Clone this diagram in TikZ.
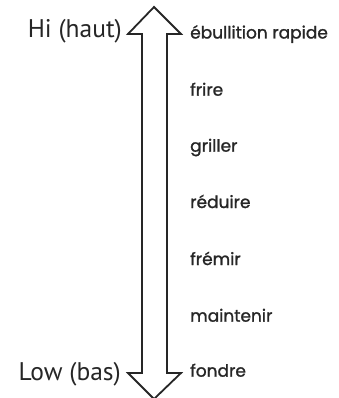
\documentclass[tikz,border=0pt]{standalone}
\usepackage{fontspec}
\newfontfamily\lftfont{PT Sans}
\newfontfamily\rgtfont[FakeBold=1.3]{Poppins}
\begin{document}
\begin{tikzpicture}[x=1pt,y=-1pt,
  lvl/.style={anchor=base west,inner sep=0pt,font=\rgtfont\fontsize{17}{19}\selectfont,text=black!85},
  endlbl/.style={anchor=base east,inner sep=0pt,font=\lftfont\fontsize{25.5}{28}\selectfont,text=black!85},
  arrowshape/.style={draw=black!85,line width=1.8pt,line join=miter,fill=white}]
\useasboundingbox (0,0) rectangle (338,398);
\coordinate (tip) at (154,7);
\coordinate (bot) at (154,399);
\draw[arrowshape] (tip) -- (128,34) -- (142,34) -- (142,373) -- (128,373) -- (bot)
  -- (181,373) -- (167,373) -- (167,34) -- (181,34) -- cycle;
\node[endlbl] (hi) at (122,38) {Hi (haut)};
\node[endlbl] (low) at (121,380.5) {Low (bas)};
\node[lvl] (l1) at (190,38.5) {ébullition rapide};
\node[lvl] (l2) at (190,95.7) {frire};
\node[lvl] (l3) at (190,151.7) {griller};
\node[lvl] (l4) at (190,208) {réduire};
\node[lvl] (l5) at (190,265) {frémir};
\node[lvl] (l6) at (190,321.7) {maintenir};
\node[lvl] (l7) at (190,376.7) {fondre};
\end{tikzpicture}
\end{document}
